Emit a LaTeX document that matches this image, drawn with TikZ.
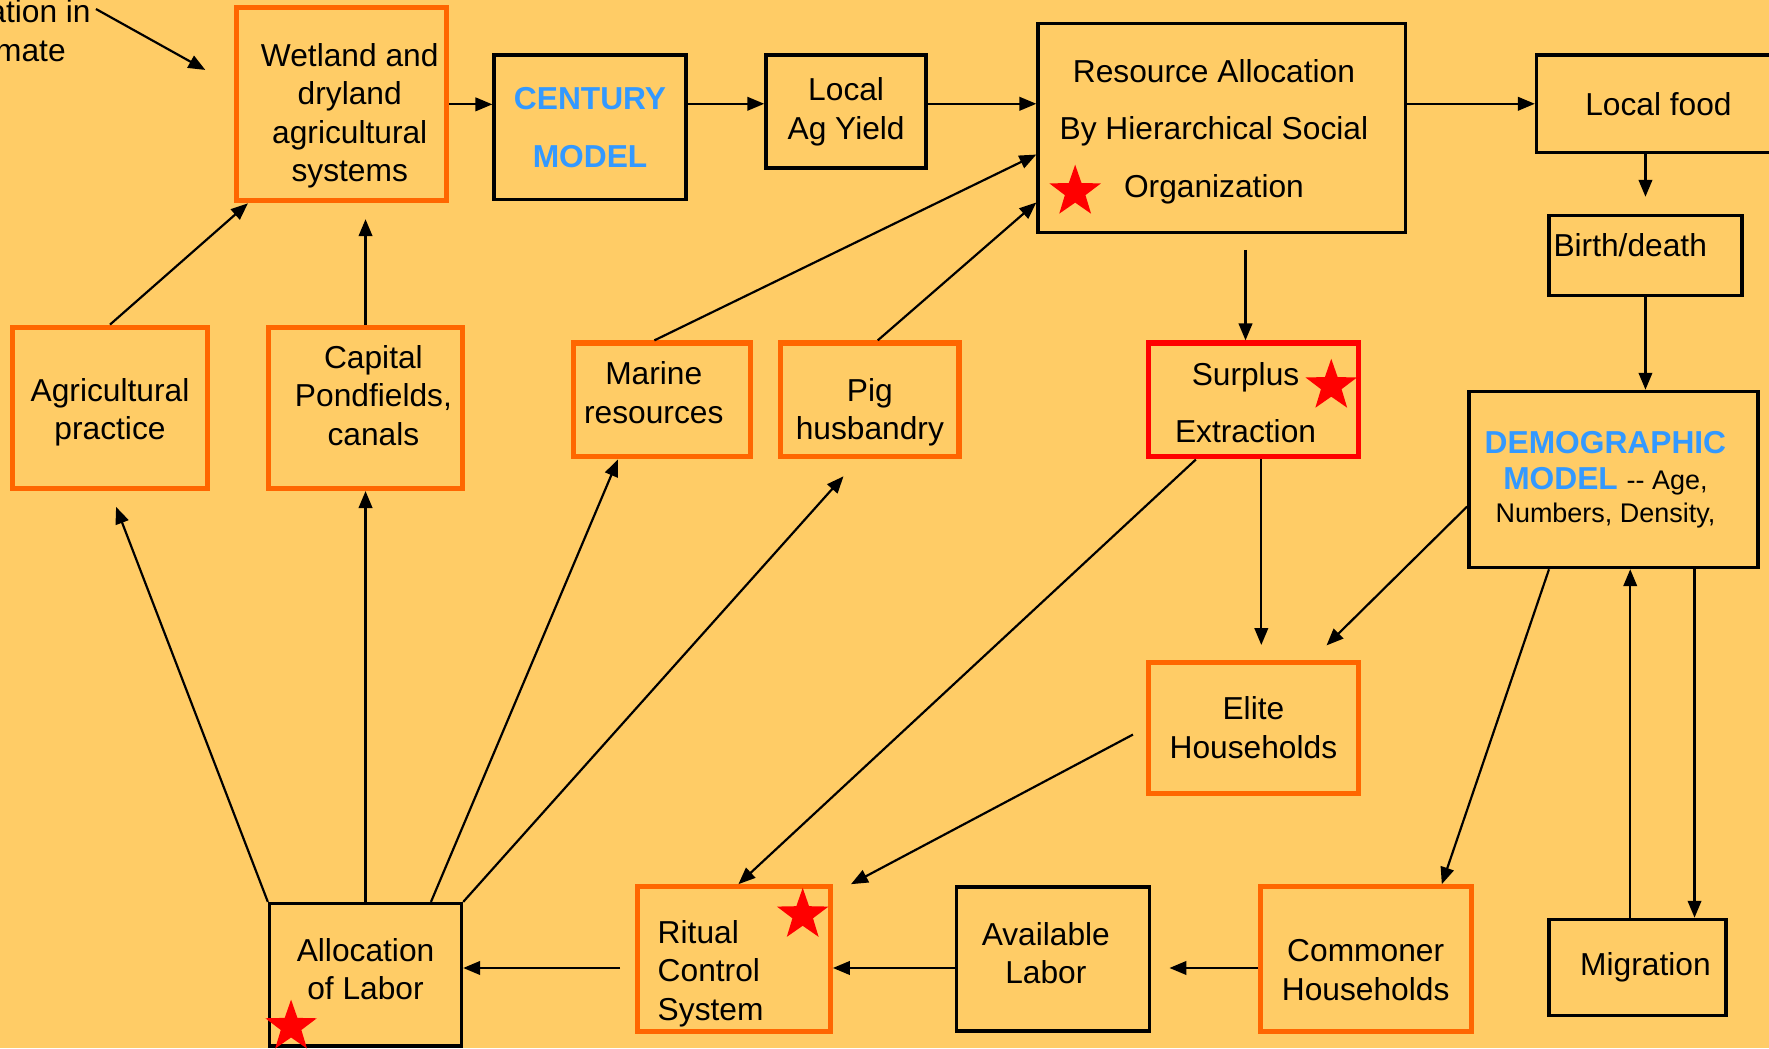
\documentclass[tikz,border=0pt]{standalone}
\usepackage{fontspec}
\setmainfont{Liberation Sans}
\usetikzlibrary{positioning, arrows.meta, shapes.geometric, calc}
\definecolor{bgcol}{HTML}{FFCC66}
\definecolor{boxorange}{HTML}{FF6600}
\definecolor{modelblue}{HTML}{3399FF}
\newcommand{\modelname}[1]{{\bfseries\color{modelblue}#1}}
\newcommand{\smalltxt}{\fontsize{6.8}{9.4}\selectfont}

\begin{document}
\begin{tikzpicture}[x=0.1mm, y=-0.1mm]
\tikzset{
>={Triangle[length=1.5mm, width=1.2mm]}, % filled arrow heads
every node/.style={font=\fontsize{8}{9.7}\selectfont, inner sep=0pt}, % text size of the slide
every label/.style={align=center}, % box texts that sit off centre
box/.style={draw=black, line width=0.9pt, align=center}, % black boxes
obox/.style={box, draw=boxorange, line width=1.3pt}, % orange boxes
rbox/.style={box, draw=red, line width=1.3pt}, % red box
link/.style={->, line width=0.55pt}, % connectors
redstar/.style={star, star points=5, star point ratio=2.5, fill=red, minimum size=4.8mm},
}
	\fill[bgcol] (0,0) rectangle (1568,929);
	\useasboundingbox (0,0) rectangle (1568,929);
	\clip (0,0) rectangle (1568,929);

	% top row
	\node[align=left, anchor=north west] (clim) at (0,-1) {\hspace*{-1.1mm}ation in\\\hspace*{-0.5mm}mate};
	\node[obox, minimum width=18.6mm, minimum height=17.1mm, label={[xshift=0.7mm, yshift=-1mm]center:{Wetland and\\dryland\\agricultural\\systems}}] (wet) at (303,92.5) {};
	\node[box, minimum width=17mm, minimum height=12.8mm] (cent) at (523,113) {\modelname{CENTURY}\\[4.8pt]\modelname{MODEL}};
	\node[box, minimum width=14.2mm, minimum height=10mm] (yield) at (750,99) {Local\\Ag Yield};
	\node[box, line width=0.8pt, minimum width=32.6mm, minimum height=18.5mm, label={[xshift=-0.7mm, yshift=-0.3mm]center:{Resource Allocation\\[4.8pt]By Hierarchical Social\\[4.8pt]Organization}}] (res) at (1083,113.5) {};
	\node[box, minimum width=21.6mm, minimum height=8.6mm] (food) at (1470,92) {Local food};
	\node[box, minimum width=17.1mm, minimum height=7.1mm, label={[yshift=0.9mm, text width=16.3mm, align=left]center:Birth/death}] (birth) at (1458.5,226.5) {};

	% middle row
	\node[obox, minimum width=17.3mm, minimum height=14.3mm, label={[yshift=-0.4mm]center:{Agricultural\\practice}}] (agri) at (97.5,361.5) {};
	\node[obox, minimum width=17.2mm, minimum height=14.3mm, label={[xshift=0.7mm, yshift=1.1mm]center:{Capital\\Pondfields,\\canals}}] (cap) at (324,361.5) {};
	\node[obox, minimum width=15.7mm, minimum height=10.1mm, label={[xshift=-0.7mm, yshift=0.65mm]center:{Marine\\resources}}] (marine) at (586.5,354.5) {};
	\node[obox, minimum width=15.8mm, minimum height=10.1mm, label={[yshift=-1.1mm]center:{Pig\\husbandry}}] (pig) at (771,354.5) {};
	\node[rbox, minimum width=18.6mm, minimum height=10.1mm, label={[xshift=-0.7mm, yshift=-0.25mm]center:{Surplus\\[4.8pt]Extraction}}] (surplus) at (1111,354.5) {};
	\node[box, minimum width=25.6mm, minimum height=15.6mm, label={[xshift=-0.7mm]center:{\modelname{DEMOGRAPHIC}\\[-0.2mm]\modelname{MODEL} {\smalltxt -{}- Age,}\\[-0.5mm]{\smalltxt Numbers, Density,}}}] (demo) at (1430,425) {};
	\node[obox, minimum width=18.6mm, minimum height=11.6mm] (elite) at (1111,645) {Elite\\Households};

	% bottom row
	\node[box, minimum width=17mm, minimum height=12.6mm, label={[yshift=0.5mm]center:{Allocation\\of Labor}}] (alloc) at (324,864) {};
	\node[obox, minimum width=17.1mm, minimum height=12.8mm, label={[yshift=-1.3mm, text width=13.5mm, align=left]center:{Ritual\\Control\\System}}] (ritual) at (650.5,850) {};
	\node[box, minimum width=17.1mm, minimum height=12.8mm, label={[xshift=-0.65mm, yshift=0.5mm]center:{Available\\Labor}}] (avail) at (933.5,850) {};
	\node[obox, minimum width=18.7mm, minimum height=12.8mm, label={[yshift=-1mm]center:{Commoner\\Households}}] (comm) at (1210.5,850) {};
	\node[box, minimum width=15.7mm, minimum height=8.5mm, label={[xshift=0.7mm]center:Migration}] (migr) at (1451.5,857.5) {};

	% stars
	\node[redstar] (star1) at (953,170) {};
	\node[redstar] (star2) at (1180,342) {};
	\node[redstar] (star3) at (711.5,811) {};
	\node[redstar] (star4) at (258,910) {};

	\coordinate (climend) at (182,62);
	\coordinate (row1) at (0,92);
	\coordinate (row4) at (0,858);

	\draw[link] ([shift={(4,9)}]clim.north east) -- (climend);
	\draw[link] (wet.east) -- (wet.east -| cent.west);
	\draw[link] (cent.east |- row1) -- (yield.west |- row1);
	\draw[link] (yield.east |- row1) -- (res.west |- row1);
	\draw[link] (res.east |- row1) -- (food.west |- row1);
	\draw[link, shorten >=1.5mm] (birth.north |- food.south) -- (birth.north);
	\draw[link] (birth.south) -- (birth.south |- demo.north);
	\draw[link, shorten <=1.4mm] ([xshift=-0.7mm]surplus.north |- res.south) -- ([xshift=-0.7mm]surplus.north);

	\draw[link] (agri.north) -- ([xshift=1.2mm]wet.south west);
	\draw[link, shorten >=1.4mm] (cap.north) -- (cap.north |- wet.south);
	\draw[link] ([xshift=-0.65mm]marine.north) -- ([yshift=-2.35mm]res.west);
	\draw[link] ([xshift=0.7mm]pig.north) -- ([yshift=-6.6mm]res.west);

	\draw[link, shorten >=1.5mm] (alloc.north west) -- (agri.south);
	\draw[link] (alloc.north) -- (cap.south);
	\draw[link] ([xshift=5.8mm]alloc.north) -- ([xshift=4.2mm]marine.south west);
	\draw[link, shorten >=2mm] (alloc.north east) -- ([xshift=-1mm]pig.south);

	\draw[link] ([xshift=-5.1mm]surplus.south) -- ([xshift=0.4mm]ritual.north);
	\draw[link, shorten >=1.3mm] ([xshift=0.7mm]surplus.south) -- ([xshift=0.7mm]elite.north);
	\draw[link, shorten >=1.8mm] ([yshift=-2.4mm]demo.west) -- ([xshift=5.2mm]elite.north);
	\draw[link, shorten <=1.3mm] (elite.west) -- ([xshift=1.6mm]ritual.north east);
	\draw[link] ([xshift=-5.7mm]demo.south) -- ([xshift=6.75mm]comm.north);
	\draw[link] ([xshift=-0.65mm]migr.north) -- ([xshift=-0.65mm]migr.north |- demo.south);
	\draw[link] ([xshift=5.05mm]migr.north |- demo.south) -- ([xshift=5.05mm]migr.north);

	\draw[link, shorten >=1.6mm] (comm.west |- row4) -- (avail.east |- row4);
	\draw[link] (avail.west |- row4) -- (ritual.east |- row4);
	\draw[link, shorten <=1.3mm] (ritual.west |- row4) -- (alloc.east |- row4);
\end{tikzpicture}
\end{document}
